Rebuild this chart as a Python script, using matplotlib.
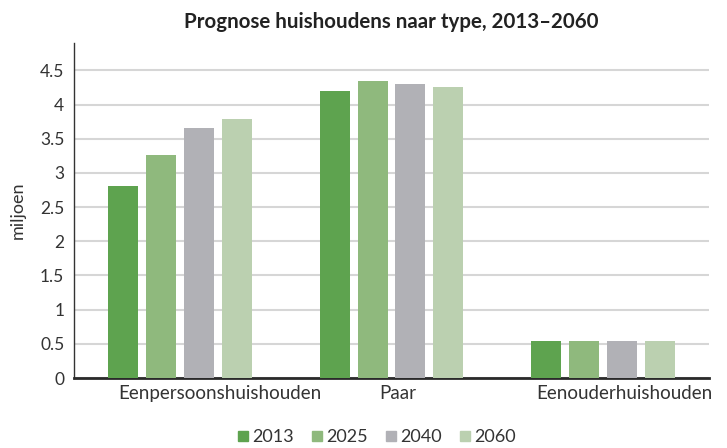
import matplotlib
matplotlib.use("Agg")
import matplotlib.pyplot as plt
import numpy as np

categories = ["Eenpersoonshuishouden", "Paar", "Eenouderhuishouden"]
years = ["2013", "2025", "2040", "2060"]
v2013 = [2.81, 4.20, 0.54]
v2025 = [3.26, 4.34, 0.54]
v2040 = [3.66, 4.30, 0.54]
v2060 = [3.79, 4.26, 0.54]
series = [v2013, v2025, v2040, v2060]
colors = ["#5ea34f", "#8fb97d", "#b1b1b6", "#bbd0b0"]
yticks = [0, 0.5, 1, 1.5, 2, 2.5, 3, 3.5, 4, 4.5]
ytick_labels = ["0", "0.5", "1", "1.5", "2", "2.5", "3", "3.5", "4", "4.5"]

plt.rcParams['font.family'] = ['Lato', 'DejaVu Sans']

fig = plt.figure(figsize=(7.27, 4.48), dpi=100)
ax = fig.add_axes([74/727, 1-378/448, (709-74)/727, (378-43)/448])

x = np.arange(len(categories))
width = 0.1415
pitch = 0.179
for i, (vals, c, yr) in enumerate(zip(series, colors, years)):
    ax.bar(x + (i - 1.5) * pitch, vals, width=width, color=c, label=yr, zorder=3)

ax.set_xlim(-0.5, 2.5)
ax.set_ylim(0, 4.9)
ax.set_yticks(yticks)
ax.set_yticklabels(ytick_labels, fontsize=12.5, color="#333333")
ax.set_xticks([0.19, 1.03, 2.10])
ax.set_xticklabels(categories, fontsize=13.5, color="#333333")
ax.tick_params(axis='both', length=0)
ax.tick_params(axis='y', pad=7)
ax.tick_params(axis='x', pad=5)
ax.yaxis.grid(True, color="#d6d6d6", linewidth=1.5, zorder=0)
ax.set_axisbelow(True)
for s in ["top", "right"]:
    ax.spines[s].set_visible(False)
ax.spines["left"].set_color("#333333")
ax.spines["left"].set_linewidth(1.0)
ax.spines["bottom"].set_color("#2a2a2a")
ax.spines["bottom"].set_linewidth(2.0)

ax.set_ylabel("miljoen", fontsize=13, color="#333333", labelpad=10)

fig.text(391.5/727, 1-22/448, "Prognose huishoudens naar type, 2013\u20132060",
         ha="center", va="center", fontsize=14.8, fontweight="bold", color="#222222")

handles = [plt.Line2D([], [], marker='s', linestyle='none', markersize=7,
                      markerfacecolor=c, markeredgecolor=c) for c in colors]
fig.legend(handles, years, loc="center", bbox_to_anchor=(376/727, 1-437/448),
           ncol=4, frameon=False, fontsize=13, handletextpad=0.1,
           columnspacing=0.9, handlelength=0.8, labelcolor="#333333")

fig.savefig("out.png", dpi=100)
